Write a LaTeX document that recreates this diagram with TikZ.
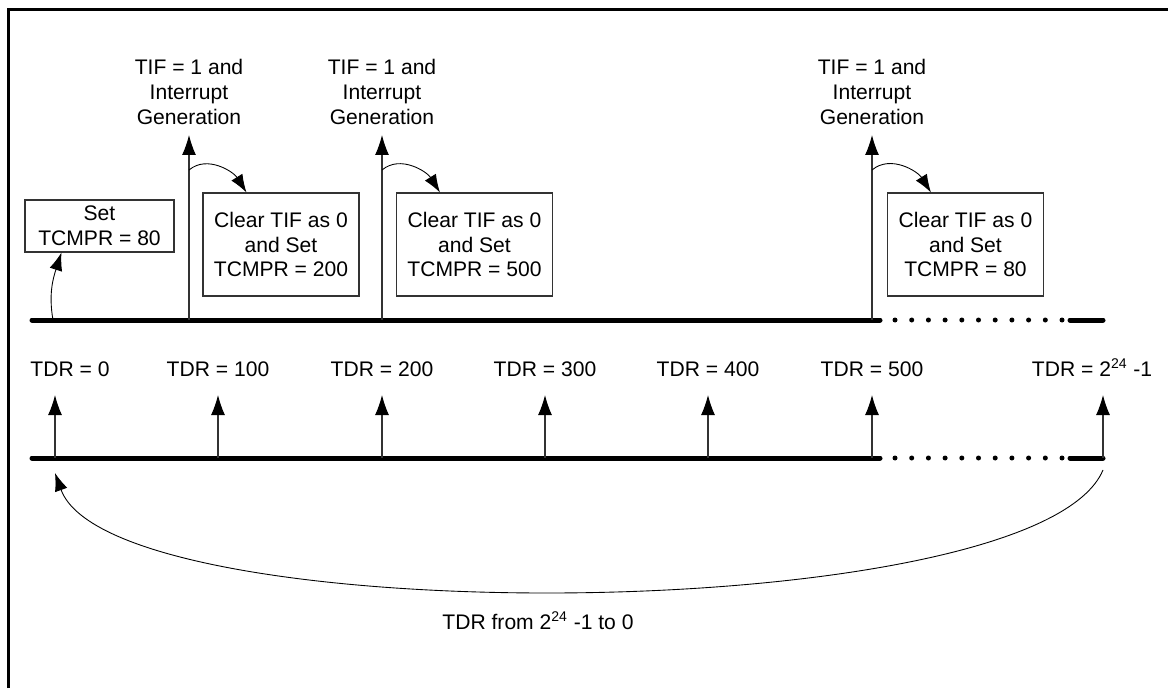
\documentclass[tikz,border=0pt]{standalone}
\usepackage{fontspec}
\setmainfont{Liberation Sans}
\usetikzlibrary{calc,arrows.meta}
\tikzset{
	axis/.style={line width=0.1cm, line cap=round},
	tick/.style={draw=black!80, line width=0.6pt, -{Latex[length=0.4cm,width=0.28cm,color=black]}},
	curvearr/.style={line width=0.5pt, -{Latex[length=0.36cm,width=0.26cm]}},
	regbox/.style={draw=black!80, line width=0.6pt, align=center, minimum width=3.12cm, minimum height=2.06cm, inner sep=0pt},
	evt/.style={align=center, anchor=south, inner ysep=0.2cm, inner xsep=0pt},
	tdr/.style={anchor=south, inner ysep=0.36cm, inner xsep=0pt}
}
\def\dotrun(#1,#2){\foreach \k in {0,...,10} \fill (#1+\k*0.334, #2) circle (0.05);}

\begin{document}
\begin{tikzpicture}[font=\fontsize{12}{14.2}\selectfont]
			%%%%% START %%%%%
			\useasboundingbox (0,0) rectangle (23.36,13.76);
			\draw[line width=0.06cm] (0.16,0) -- (0.16,13.56) -- (23.36,13.56);
			
			% upper time line
			\draw[axis] (0.64,7.36) -- (17.6,7.36);
			\dotrun(17.9,7.36)
			\draw[axis] (21.4,7.36) -- (22.06,7.36);
			
			\coordinate (s0) at (1.06,7.36);
			\coordinate (t1) at (3.78,7.36);
			\coordinate (t2) at (7.64,7.36);
			\coordinate (t3) at (17.44,7.36);
			
			\node[evt] (irq1) at (3.78,11.06) {TIF = 1 and\\Interrupt\\Generation};
			\node[evt] (irq2) at (7.64,11.06) {TIF = 1 and\\Interrupt\\Generation};
			\node[evt] (irq3) at (17.44,11.06) {TIF = 1 and\\Interrupt\\Generation};
			\draw[tick] (t1) -- (irq1.south);
			\draw[tick] (t2) -- (irq2.south);
			\draw[tick] (t3) -- (irq3.south);
			
			\node[regbox, minimum width=2.98cm, minimum height=1.04cm] (set0) at (1.99,9.24) {Set\\TCMPR = 80};
			\node[regbox] (clr1) at (5.62,8.87) {Clear TIF as 0\\and Set\\TCMPR = 200};
			\node[regbox] (clr2) at (9.49,8.87) {Clear TIF as 0\\and Set\\TCMPR = 500};
			\node[regbox] (clr3) at (19.31,8.87) {Clear TIF as 0\\and Set\\TCMPR = 80};
			
			\coordinate (c1) at (3.78,10.36);
			\coordinate (c2) at (7.64,10.36);
			\coordinate (c3) at (17.44,10.36);
			\draw[curvearr] (s0) to[out=100, in=-108] ([xshift=0.74cm]set0.south west);
			\draw[curvearr] (c1) to[out=40, in=122] ([xshift=0.88cm]clr1.north west);
			\draw[curvearr] (c2) to[out=40, in=122] ([xshift=0.88cm]clr2.north west);
			\draw[curvearr] (c3) to[out=40, in=122] ([xshift=0.88cm]clr3.north west);
			
			% lower time line
			\draw[axis] (0.64,4.6) -- (17.6,4.6);
			\dotrun(17.9,4.6)
			\draw[axis] (21.4,4.6) -- (22.06,4.6);
			
			\coordinate (b0) at (1.1,4.6);
			\coordinate (b1) at (4.36,4.6);
			\coordinate (b2) at (7.64,4.6);
			\coordinate (b3) at (10.9,4.6);
			\coordinate (b4) at (14.16,4.6);
			\coordinate (b5) at (17.44,4.6);
			\coordinate (b6) at (22.06,4.6);
			
			\node[tdr] (v0) at (1.4,5.86) {TDR = 0};
			\node[tdr] (v1) at (4.36,5.86) {TDR = 100};
			\node[tdr] (v2) at (7.64,5.86) {TDR = 200};
			\node[tdr] (v3) at (10.9,5.86) {TDR = 300};
			\node[tdr] (v4) at (14.16,5.86) {TDR = 400};
			\node[tdr] (v5) at (17.44,5.86) {TDR = 500};
			\node[tdr] (v6) at (21.84,5.86) {TDR = 2\textsuperscript{24} -1};
			\draw[tick] (b0) -- (b0 |- v0.south);
			\draw[tick] (b1) -- (b1 |- v1.south);
			\draw[tick] (b2) -- (b2 |- v2.south);
			\draw[tick] (b3) -- (b3 |- v3.south);
			\draw[tick] (b4) -- (b4 |- v4.south);
			\draw[tick] (b5) -- (b5 |- v5.south);
			\draw[tick] (b6) -- (b6 |- v6.south);
			
			% wrap round
			\coordinate (wrap1) at (22.06,4.36);
			\coordinate (wrap0) at (1.1,4.3);
			\draw[curvearr] (wrap1) .. controls (20.74,1.2) and (2.26,1.1) .. (wrap0);
			\node[anchor=base] (wrapl) at (10.76,1.18) {TDR from 2\textsuperscript{24} -1 to 0};
			
			%%%%% END %%%%%
\end{tikzpicture}
\end{document}
